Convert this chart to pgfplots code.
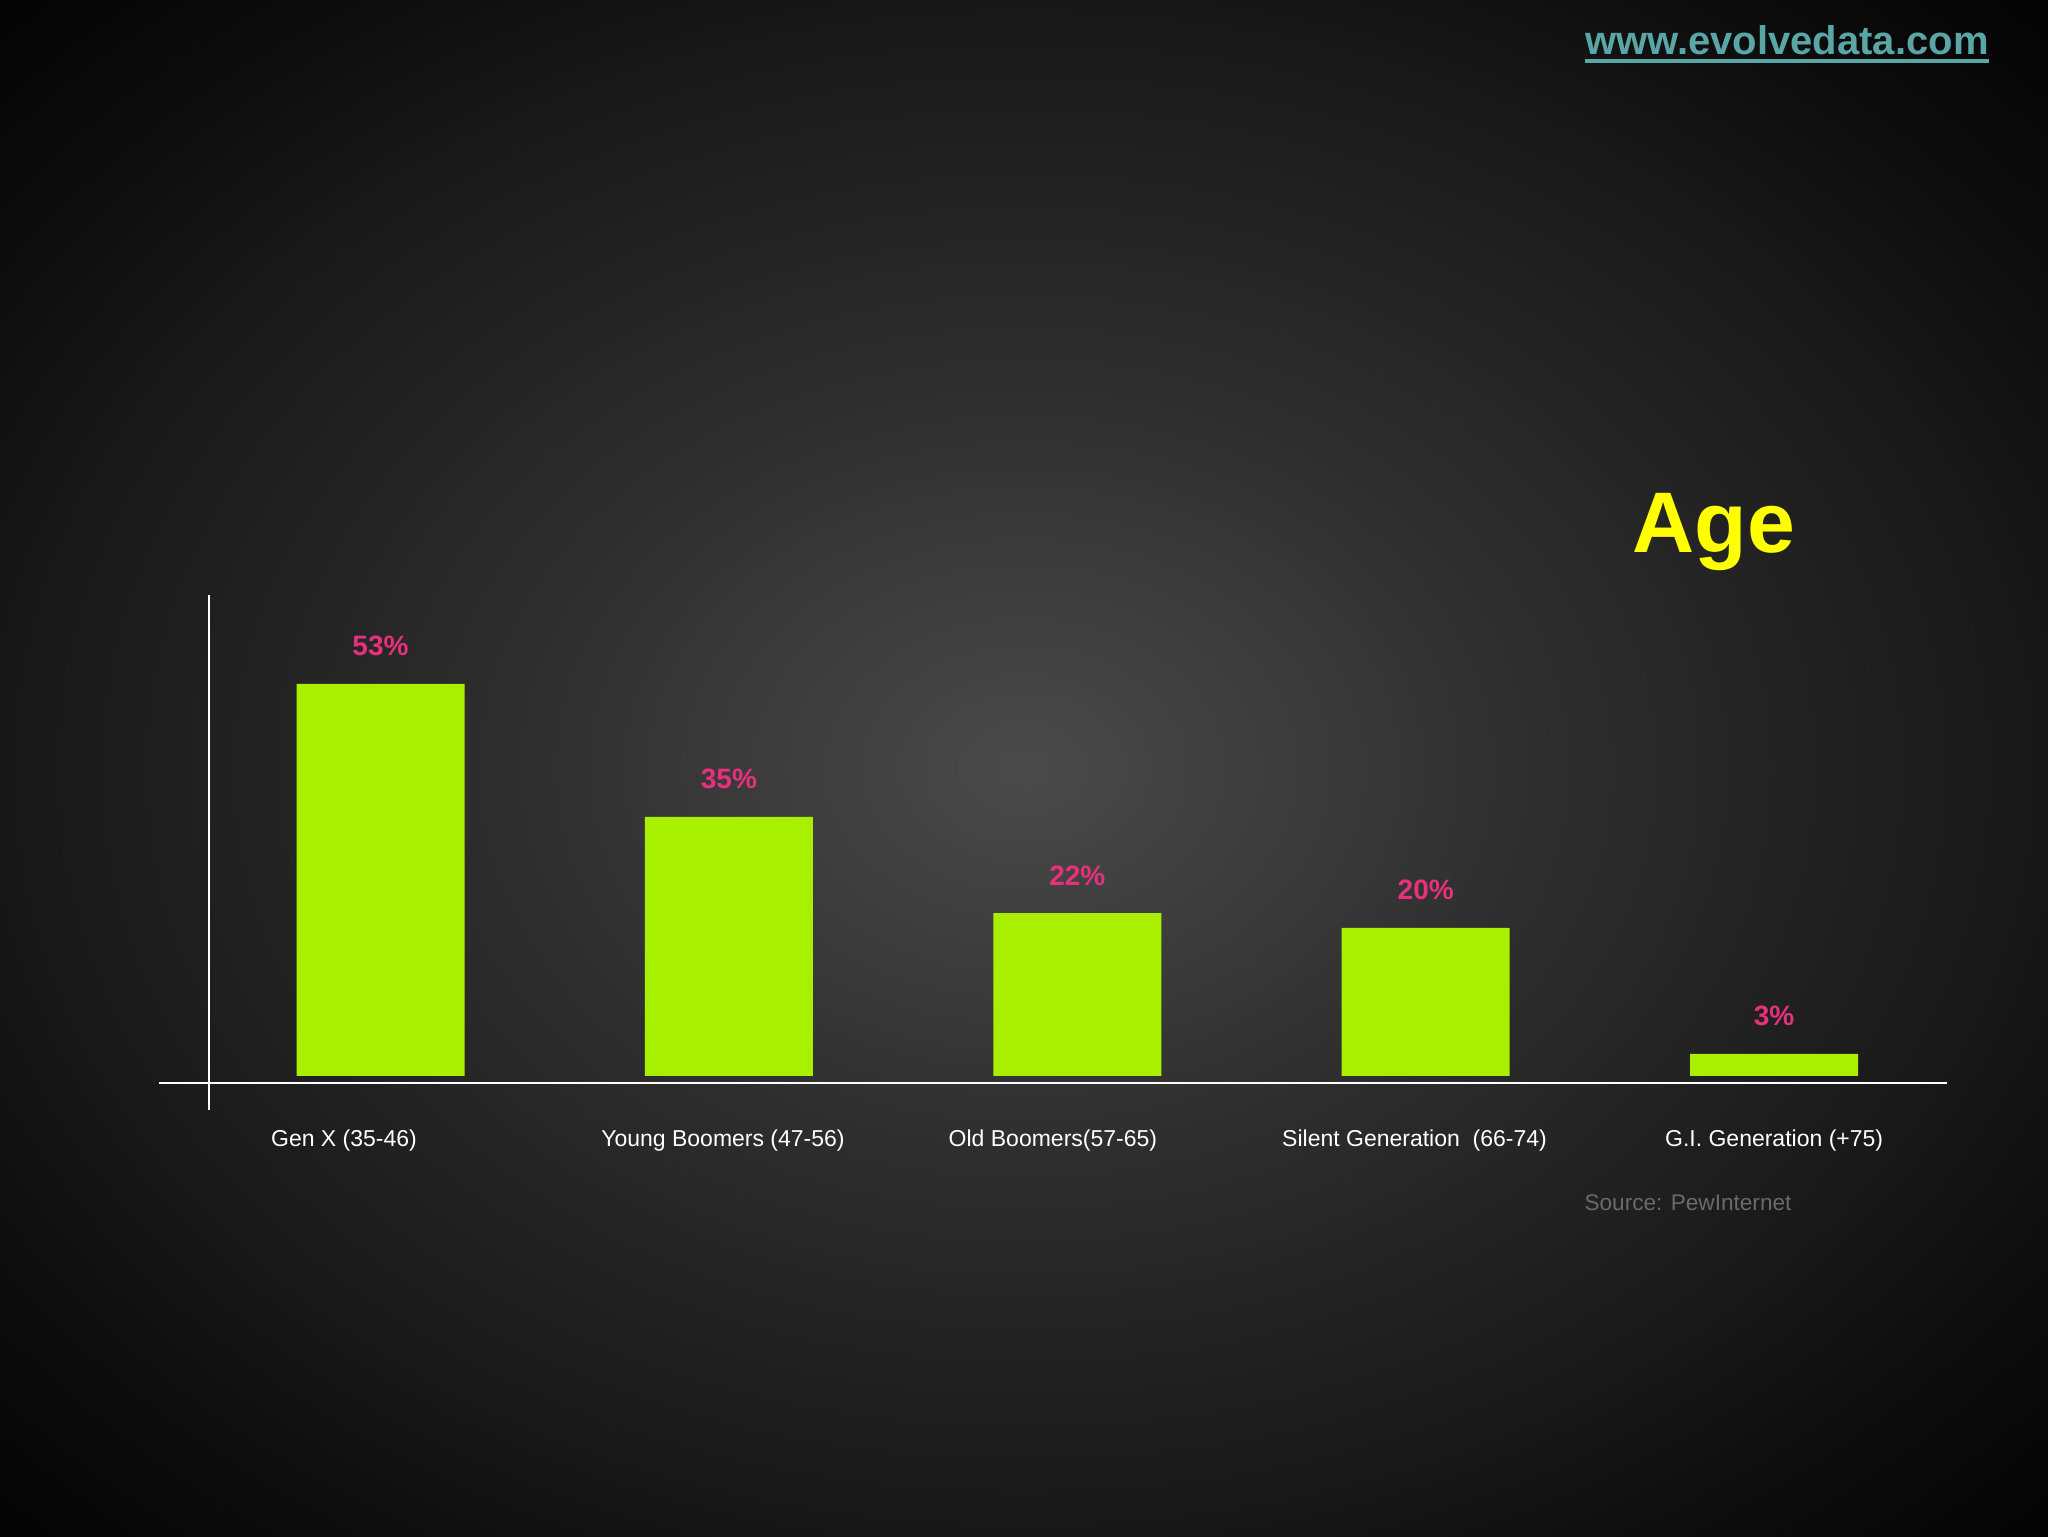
\documentclass[border=0pt]{standalone}
\usepackage{fontspec}
\setmainfont{Liberation Sans}
\usepackage{pgfplots}
\pgfplotsset{compat=1.18}

\definecolor{barGreen}{HTML}{A8F000}
\definecolor{labPink}{HTML}{E8307C}
\definecolor{urlTeal}{HTML}{5AA6A6}
\definecolor{srcGray}{HTML}{6A6A6A}
\definecolor{ageYellow}{HTML}{FFFF00}
\definecolor{bg0}{HTML}{4A4A4A}
\definecolor{bg1}{HTML}{3D3D3D}
\definecolor{bg2}{HTML}{2E2E2E}
\definecolor{bg3}{HTML}{222222}
\definecolor{bg4}{HTML}{171717}
\definecolor{bg5}{HTML}{0C0C0C}
\definecolor{bg6}{HTML}{030303}

% dark stage backdrop, lighter in the middle
\pgfdeclareradialshading{stage}{\pgfpoint{0bp}{0bp}}{%
  color(0bp)=(bg0); color(6bp)=(bg1); color(12.5bp)=(bg2);
  color(19bp)=(bg3); color(25bp)=(bg4); color(30bp)=(bg5);
  color(36bp)=(bg6); color(50bp)=(bg6)}

\begin{document}
\begin{tikzpicture}
\shade[shading=stage] (0,0) rectangle (1024pt,768pt);

\begin{axis}[
    at={(79.5pt,226.5pt)}, anchor=south west,
    scale only axis,
    width=894pt, height=244pt,
    xmin=-0.6358, xmax=4.4963,
    ymin=-0.946, ymax=65,
    axis line style={draw=none},
    ytick=\empty,
    xtick={-0.1048,0.983,1.930,2.968,4},
    xticklabels={Gen X (35-46), Young Boomers (47-56), Old Boomers(57-65),
                 Silent Generation\ \ (66-74), G.I. Generation (+75)},
    xtick style={draw=none},
    major tick length=0pt,
    xticklabel style={font=\fontsize{11.5}{13}\selectfont, text=white,
                      anchor=base, yshift=-32pt},
    /pgf/number format/assume math mode=true,
    ybar, bar width=84pt,
    nodes near coords={\pgfmathprintnumber{\pgfplotspointmeta}\%},
    every node near coord/.append style={font=\fontsize{14}{16}\selectfont\bfseries,
                      text=labPink, anchor=base, yshift=14pt},
    clip=false,
]
\addplot[fill=barGreen, draw=none] coordinates {
    (0,53) (1,35) (2,22) (3,20) (4,3)
};
\draw[white, line width=1pt] (rel axis cs:0,0) -- (rel axis cs:1,0);
\draw[white, line width=1.2pt] (axis cs:-0.4922,65) -- (axis cs:-0.4922,-4.595);
\end{axis}

\node[anchor=base, text=urlTeal, font=\fontsize{20}{24}\selectfont\bfseries, inner sep=0pt]
    (url) at (893.5pt,740.5pt) {www.evolvedata.com};
\draw[urlTeal, line width=2pt] ([yshift=-3pt]url.base west) -- ([yshift=-3pt]url.base east);

\node[anchor=base, text=ageYellow, font=\fontsize{43}{50}\selectfont\bfseries]
    at (857pt,491.5pt) {Age};
\node[anchor=base, text=srcGray, font=\fontsize{11.3}{13}\selectfont]
    at (844pt,162.5pt) {Source: PewInternet};

\pgfresetboundingbox
\useasboundingbox (0,0) rectangle (1024pt,768pt);
\end{tikzpicture}
\end{document}
